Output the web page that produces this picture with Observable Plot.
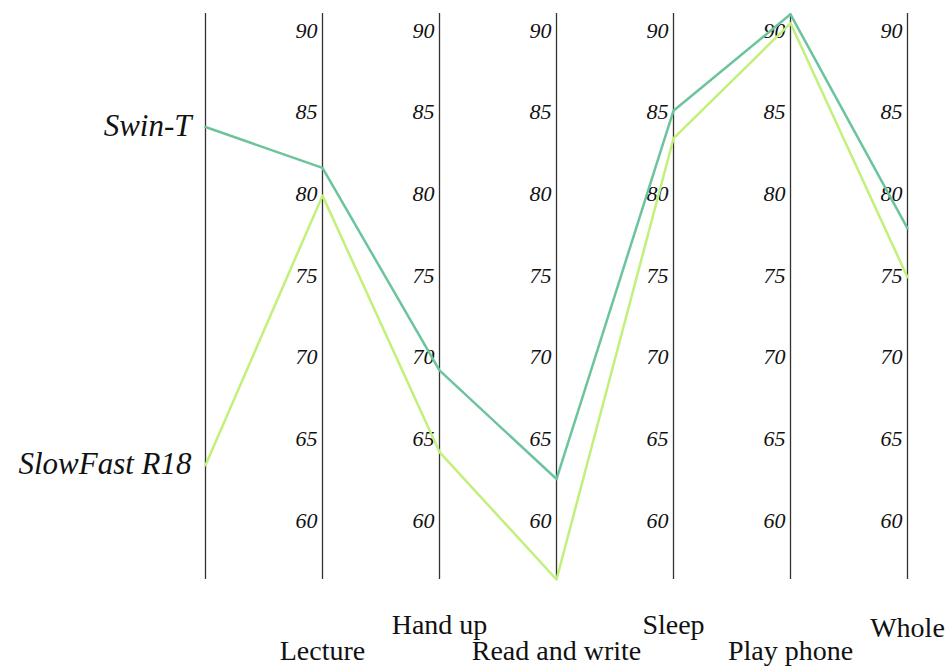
<!DOCTYPE html>
<html>
<head>
<meta charset="utf-8">
<script src="https://cdn.jsdelivr.net/npm/d3@7"></script>
<script src="https://cdn.jsdelivr.net/npm/@observablehq/plot@0.6"></script>
<style>
  html, body { margin: 0; padding: 0; background: #fff; }
  #chart svg { display: block; }
  #chart svg, #chart svg text { font-family: "Liberation Serif", "Times New Roman", serif !important; }
</style>
</head>
<body>
<div id="chart"></div>
<script>
// ---- data ----
const dimensions = ["Model", "Lecture", "Hand up", "Read and write", "Sleep", "Play phone", "Whole"];
const models = ["Swin-T", "SlowFast R18"];
const swinT = [84.1, 81.6, 69.2, 62.55, 85.1, 91.0, 77.9];
const slowFastR18 = [63.4, 79.9, 64.2, 56.4, 83.4, 90.45, 74.9];
const tickValues = [60, 65, 70, 75, 80, 85, 90];
const lowerRowLabels = ["Lecture", "Read and write", "Play phone"];
const upperRowLabels = ["Hand up", "Sleep"];
const lastLabel = ["Whole"];
const colors = ["#6cc49c", "#c2f07a"];

// ---- derived tables ----
const seriesValues = [swinT, slowFastR18];
const long = [];
models.forEach((m, i) => dimensions.forEach((d, j) => long.push({model: m, axis: d, value: seriesValues[i][j]})));
const tickTable = [];
dimensions.slice(1).forEach(d => tickValues.forEach(t => tickTable.push({axis: d, tick: t})));
const modelLabels = models.map((m, i) => ({model: m, axis: dimensions[0], value: seriesValues[i][0]}));

const serif = "Liberation Serif";

const chart = Plot.plot({
  width: 950,
  height: 668,
  marginLeft: 204,
  marginRight: 42,
  marginTop: 13,
  marginBottom: 89,
  x: {type: "point", domain: dimensions, padding: 0, axis: null},
  y: {domain: [56.4, 91.05], axis: null},
  color: {domain: models, range: colors},
  style: {background: "#fff", fontFamily: "Liberation Serif"},
  marks: [
    Plot.ruleX(dimensions, {x: d => d, stroke: "#333", strokeWidth: 1.3}),
    Plot.text(tickTable, {
      x: "axis", y: "tick", text: d => String(d.tick),
      textAnchor: "end", dx: -5, fontSize: 22, fontStyle: "italic",
      fontFamily: serif, fill: "#111"
    }),
    Plot.line(long, {x: "axis", y: "value", z: "model", stroke: "model", strokeWidth: 2.5, curve: "linear"}),
    Plot.text(modelLabels, {
      x: "axis", y: "value", text: "model",
      textAnchor: "end", dx: -14, dy: -1, fontSize: 31, fontStyle: "italic",
      fontFamily: serif, fill: "#111"
    }),
    Plot.text(lowerRowLabels, {x: d => d, text: d => d, frameAnchor: "bottom", dy: 80, fontSize: 28, fontFamily: serif, fill: "#111"}),
    Plot.text(upperRowLabels, {x: d => d, text: d => d, frameAnchor: "bottom", dy: 54, fontSize: 28, fontFamily: serif, fill: "#111"}),
    Plot.text(lastLabel, {x: d => d, text: d => d, frameAnchor: "bottom", dy: 57, fontSize: 28, fontFamily: serif, fill: "#111"})
  ]
});
document.getElementById("chart").appendChild(chart);
</script>
</body>
</html>
